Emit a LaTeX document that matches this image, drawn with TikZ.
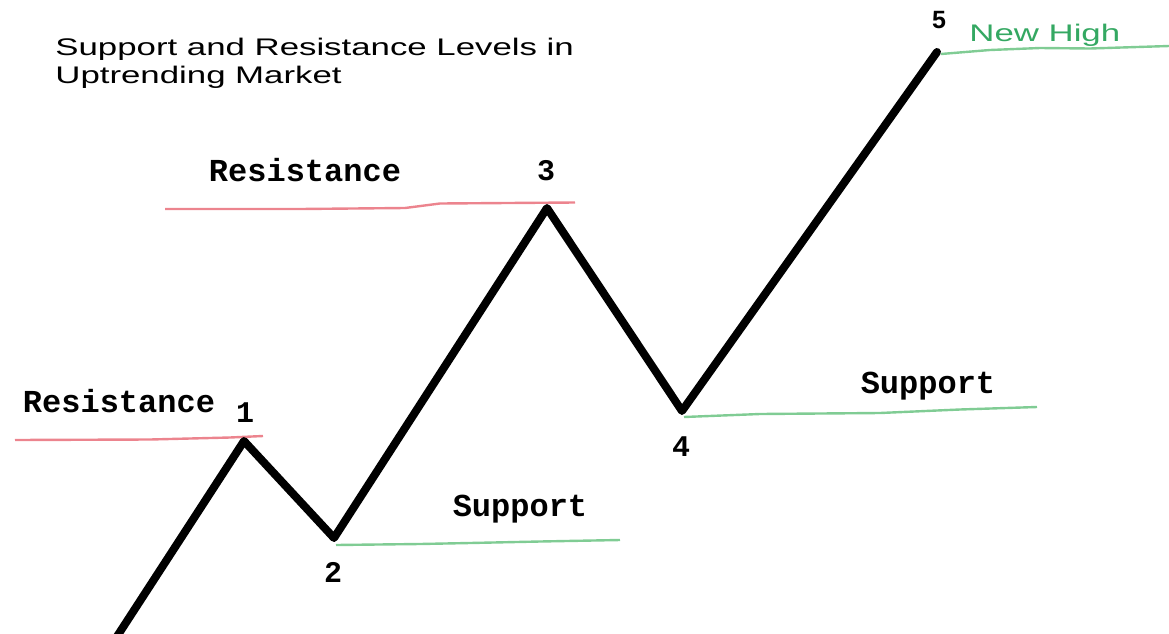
\documentclass[tikz,border=0pt]{standalone}
\usepackage{fontspec}
\setsansfont{Liberation Sans}
\setmonofont{Liberation Mono}
\newfontfamily\widesans[FakeStretch=1.45]{Liberation Sans}
\definecolor{resred}{RGB}{236,132,142}
\definecolor{supgrn}{RGB}{128,204,148}
\definecolor{highgrn}{RGB}{52,168,98}
\tikzset{
  priceln/.style={line width=4pt,line join=round,line cap=round},
  reslvl/.style={line width=1.2pt,resred},
  suplvl/.style={line width=1.2pt,supgrn},
  lvlab/.style={font=\fontsize{16}{16}\selectfont\ttfamily\bfseries,anchor=base,inner sep=0pt},
  ptlab/.style={font=\fontsize{15}{15}\selectfont\ttfamily\bfseries,anchor=base,inner sep=0pt},
  ttlab/.style={font=\fontsize{12}{14}\selectfont\widesans,anchor=base west,align=left,inner sep=0pt},
}

\begin{document}
\begin{tikzpicture}[x=0.5pt,y=-0.5pt]
\useasboundingbox (0,0) rectangle (1169,633);
% ---- title (base = baseline of its last line)
\node[ttlab] (title) at (55,83) {Support and Resistance Levels in\\Uptrending Market};
% ---- turning points of the price path
\coordinate (p0) at (116,638);
\coordinate (p1) at (244,441);
\coordinate (p2) at (334,538);
\coordinate (p3) at (547,208);
\coordinate (p4) at (682,411);
\coordinate (p5) at (937,52);
% ---- free ends of the level lines
\coordinate (r1a) at (15,440);
\coordinate (r3a) at (165,209);
\coordinate (s2b) at (620,540);
\coordinate (s4b) at (1037,407);
\coordinate (nhb) at (1169,46);
% ---- level lines, drawn by hand
\draw[reslvl] (r1a) -- (150,439.5) -- (230,437.5) -- (263,436);
\draw[reslvl] (r3a) -- (300,209) -- (405,208) -- (440,203.5) -- (575,202.5);
\draw[suplvl] (p2) ++(2,7) -- (420,544) -- (470,543) -- (540,541.5) -- (s2b);
\draw[suplvl] (p4) ++(2,6) -- (760,414) -- (880,413) -- (960,409.5) -- (s4b);
\draw[suplvl] (p5) ++(4,2) -- (990,50) -- (1040,48) -- (1090,48.5) -- (nhb);
% ---- the price path
\draw[priceln] (p0) -- (p1) -- (p2) -- (p3) -- (p4) -- (p5);
% ---- labels
\node[lvlab] (res1) at (119,412) {Resistance};
\node[lvlab] (res3) at (305,181) {Resistance};
\node[lvlab] (sup2) at (520,516) {Support};
\node[lvlab] (sup4) at (928,393) {Support};
\node[ptlab] (n1) at (245,422) {1};
\node[ptlab] (n2) at (333,582) {2};
\node[ptlab] (n3) at (546,180) {3};
\node[ptlab] (n4) at (681,456) {4};
\node[font=\fontsize{12.5}{12.5}\selectfont\sffamily\bfseries,anchor=base,inner sep=0pt] (n5) at (939,28) {5};
\node[font=\fontsize{12}{12}\selectfont\widesans,text=highgrn,anchor=base west,inner sep=0pt] (newhigh) at (969,41) {New High};
\end{tikzpicture}
\end{document}
